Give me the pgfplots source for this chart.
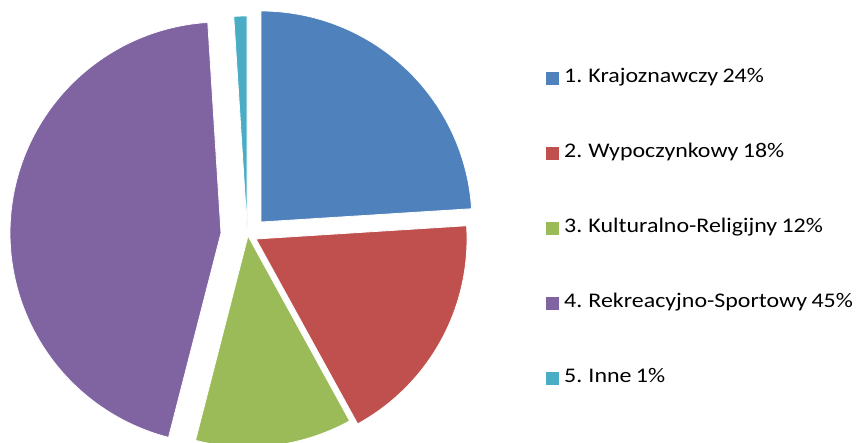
\documentclass[border=0pt]{standalone}
\usepackage{pgfplots}
\pgfplotsset{compat=1.18}
\usepackage{pgfplotstable}
\usepackage{fontspec}
\setmainfont[FakeStretch=1.15, WordSpace=0.8]{Carlito}
\definecolor{c1}{HTML}{4F81BD}
\definecolor{c2}{HTML}{C0504D}
\definecolor{c3}{HTML}{9BBB59}
\definecolor{c4}{HTML}{8064A2}
\definecolor{c5}{HTML}{4BACC6}
% pct = share in %, cx cy = apex of the (exploded) wedge
\pgfplotstableread{
pct cx cy
24 261 221
18 256 204
12 248 207
45 221 210
1  247 216
}\piedata
\newcommand\getv[3]{\pgfplotstablegetelem{#1}{#2}\of\piedata\global\let#3\pgfplotsretval}%
\getv{0}{pct}\pA \getv{1}{pct}\pB \getv{2}{pct}\pC \getv{3}{pct}\pD \getv{4}{pct}\pE
\getv{0}{cx}\xA \getv{1}{cx}\xB \getv{2}{cx}\xC \getv{3}{cx}\xD \getv{4}{cx}\xE
\getv{0}{cy}\yA \getv{1}{cy}\yB \getv{2}{cy}\yC \getv{3}{cy}\yD \getv{4}{cy}\yE
\pgfmathsetmacro\aA{90}
\pgfmathsetmacro\aB{\aA-3.6*\pA}
\pgfmathsetmacro\aC{\aB-3.6*\pB}
\pgfmathsetmacro\aD{\aC-3.6*\pC}
\pgfmathsetmacro\aE{\aD-3.6*\pD}
\pgfmathsetmacro\aF{\aE-3.6*\pE}
\def\R{211}
\begin{document}
\begin{tikzpicture}
\begin{axis}[
  scale only axis, width=858pt, height=443pt,
  xmin=0, xmax=858, ymin=0, ymax=443,
  axis line style={draw=none}, ticks=none,
  legend cell align=left,
  legend image code/.code={\fill[#1,draw=none] (0pt,-6.5pt) rectangle (13pt,6.5pt);},
  legend style={at={(axis cs:546,374.6)}, anchor=north west, draw=none, fill=none,
    inner sep=0pt, row sep=56pt, column sep=5pt,
    font=\fontsize{20.8}{24}\selectfont,
    nodes={inner sep=0pt, text height=14pt, text depth=5pt}},
]
\addplot[fill=c1, draw=white, line width=0.8pt, domain=\aB:\aA, samples=90, variable=\t]
  ({\xA+\R*cos(\t)},{\yA+\R*sin(\t)}) -- (axis cs:\xA,\yA) -- cycle;
\addlegendentry{1. Krajoznawczy 24\%}
\addplot[fill=c2, draw=white, line width=0.8pt, domain=\aC:\aB, samples=90, variable=\t]
  ({\xB+\R*cos(\t)},{\yB+\R*sin(\t)}) -- (axis cs:\xB,\yB) -- cycle;
\addlegendentry{2. Wypoczynkowy 18\%}
\addplot[fill=c3, draw=white, line width=0.8pt, domain=\aD:\aC, samples=90, variable=\t]
  ({\xC+\R*cos(\t)},{\yC+\R*sin(\t)}) -- (axis cs:\xC,\yC) -- cycle;
\addlegendentry{3. Kulturalno-Religijny 12\%}
\addplot[fill=c4, draw=white, line width=0.8pt, domain=\aE:\aD, samples=120, variable=\t]
  ({\xD+\R*cos(\t)},{\yD+\R*sin(\t)}) -- (axis cs:\xD,\yD) -- cycle;
\addlegendentry{4. Rekreacyjno-Sportowy 45\%}
\addplot[fill=c5, draw=white, line width=0.8pt, domain=\aF:\aE, samples=20, variable=\t]
  ({\xE+\R*cos(\t)},{\yE+\R*sin(\t)}) -- (axis cs:\xE,\yE) -- cycle;
\addlegendentry{5. Inne 1\%}
\end{axis}
\end{tikzpicture}
\end{document}
